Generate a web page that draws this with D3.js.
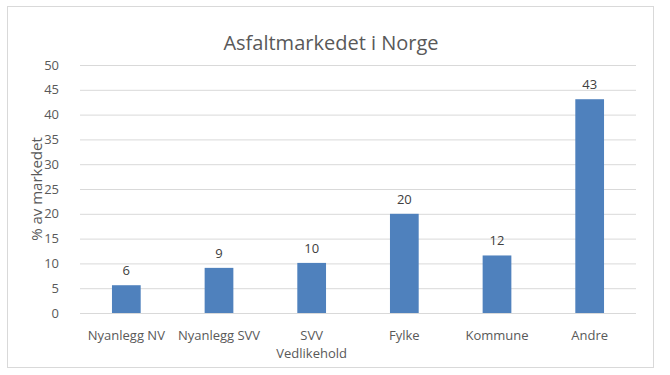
<!DOCTYPE html>
<html><head><meta charset="utf-8">
<script src="https://cdn.jsdelivr.net/npm/d3@7"></script>
<style>body{margin:0;background:#fff}svg{display:block}text{font-family:"Open Sans",sans-serif}</style>
</head><body><svg id="c" width="670" height="375"></svg>
<script>
const categories = [["Nyanlegg NV"], ["Nyanlegg SVV"], ["SVV", "Vedlikehold"], ["Fylke"], ["Kommune"], ["Andre"]];
const values = [5.6, 9.1, 10.1, 20.0, 11.6, 43.1];
const labels = ["6", "9", "10", "20", "12", "43"];
const yTicks = [0, 5, 10, 15, 20, 25, 30, 35, 40, 45, 50];

const svg = d3.select("#c");
const m = {l: 80, r: 34, t: 65, b: 62};
const W = 670, H = 375;
svg.append("rect").attr("x", 7.5).attr("y", 6.5).attr("width", 646).attr("height", 361)
  .attr("fill", "#fff").attr("stroke", "#d9d9d9");

const x = d3.scaleBand().domain(d3.range(categories.length)).range([m.l, W - m.r])
  .paddingInner(0.69).paddingOuter(0.345);
const y = d3.scaleLinear().domain([0, 50]).range([H - m.b, m.t]);

const g = svg.append("g");
const yAxis = g.append("g").attr("transform", `translate(${m.l},0)`)
  .call(d3.axisLeft(y).tickValues(yTicks).tickSize(-(W - m.r - m.l)).tickPadding(21));
yAxis.select(".domain").remove();
yAxis.selectAll(".tick line").attr("stroke", "#d9d9d9");
yAxis.selectAll(".tick text").attr("fill", "#595959").style("font-size", "13px");

g.selectAll("rect.bar").data(values).join("rect").attr("class", "bar")
  .attr("x", (d, i) => x(i)).attr("width", x.bandwidth())
  .attr("y", d => y(d)).attr("height", d => y(0) - y(d)).attr("fill", "#4f81bd");

g.selectAll("text.lbl").data(values).join("text").attr("class", "lbl")
  .attr("x", (d, i) => x(i) + x.bandwidth() / 2).attr("y", d => y(d) - 10)
  .attr("text-anchor", "middle").attr("fill", "#404040").style("font-size", "13px")
  .text((d, i) => labels[i]);

const xl = g.selectAll("text.cat").data(categories).join("text").attr("class", "cat")
  .attr("text-anchor", "middle").attr("fill", "#595959").style("font-size", "13px")
  .attr("transform", (d, i) => `translate(${x(i) + x.bandwidth() / 2},${y(0) + 27})`);
xl.selectAll("tspan").data(d => d).join("tspan").attr("x", 0).attr("dy", (d, j) => j ? 18 : 0).text(d => d);

svg.append("text").attr("transform", `translate(42,${(y(0) + y(50)) / 2}) rotate(-90)`)
  .attr("text-anchor", "middle").attr("fill", "#595959").style("font-size", "15px").text("% av markedet");

svg.append("text").attr("x", 331).attr("y", 50).attr("text-anchor", "middle")
  .attr("fill", "#595959").style("font-size", "20px").text("Asfaltmarkedet i Norge");
</script></body></html>
